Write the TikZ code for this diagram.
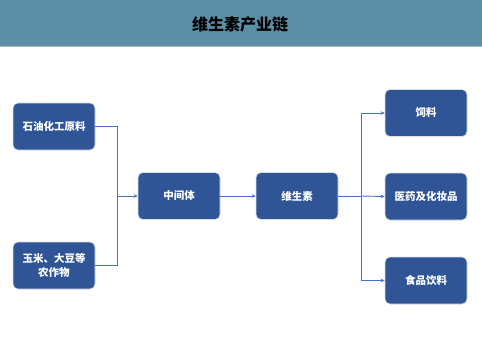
\documentclass[tikz,border=0pt]{standalone}
\usepackage{fontspec}
\newfontfamily\cjk{Noto Sans CJK SC}
\usetikzlibrary{arrows.meta}
\definecolor{titlebar}{HTML}{5B8FA8}
\definecolor{boxblue}{HTML}{2F5597}
\definecolor{linkblue}{HTML}{4472C4}
\tikzset{
  stagebox/.style={draw=white!80!boxblue, line width=0.6pt, fill=boxblue, rounded corners=5pt,
    minimum width=82pt, minimum height=47pt, inner sep=0pt, text=white,
    font=\cjk\bfseries\fontsize{10.5}{14}\selectfont, align=center},
  link/.style={draw=linkblue, line width=0.9pt},
  linkarrow/.style={link, -{Stealth[length=4pt,width=3.5pt]}}
}
\begin{document}
\begin{tikzpicture}[x=1pt,y=-1pt]
\useasboundingbox (0,0) rectangle (482,359);
\fill[titlebar] (0,0) rectangle (482,46);
\draw[gray!60, line width=1pt] (0,46.5) -- (482,46.5);
\node[font=\cjk\bfseries\fontsize{16}{18}\selectfont, text=black] (title) at (240,24) {维生素产业链};
\node[stagebox] (oil) at (54,126.5) {石油化工原料};
\node[stagebox] (crop) at (54,265.5) {玉米、大豆等\\农作物};
\node[stagebox] (mid) at (179,196) {中间体};
\node[stagebox] (vit) at (297,196) {维生素};
\node[stagebox] (feed) at (426,113) {饲料};
\node[stagebox] (med) at (426,196.5) {医药及化妆品};
\node[stagebox] (food) at (426,280.5) {食品饮料};
\coordinate (j1) at (117,196);
\coordinate (j2) at (361,196);
\draw[link] (oil.east) -| (j1);
\draw[link] (crop.east) -| (j1);
\draw[linkarrow] (j1) -- (mid.west);
\draw[linkarrow] (mid.east) -- (vit.west);
\draw[link] (vit.east) -- (j2);
\draw[linkarrow] (j2) |- (feed.west);
\draw[linkarrow] (j2) -- (med.west);
\draw[linkarrow] (j2) |- (food.west);
\end{tikzpicture}
\end{document}
